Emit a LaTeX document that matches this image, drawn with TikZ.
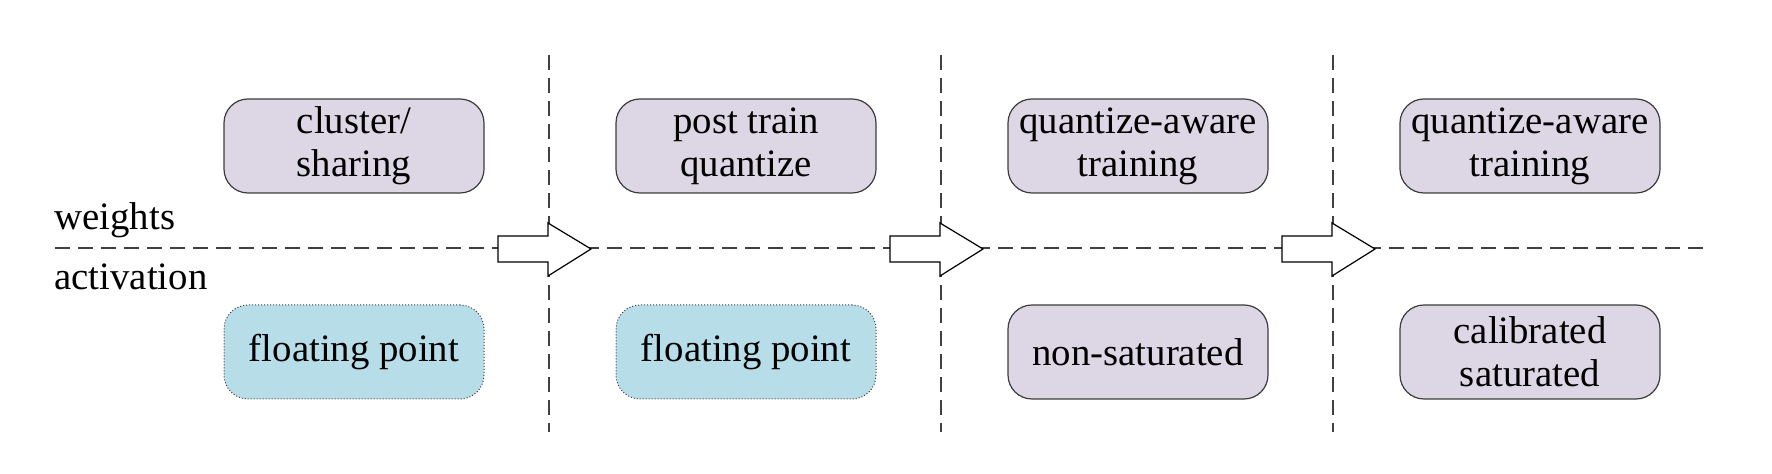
\documentclass[tikz,border=0pt]{standalone}
\usepackage{fontspec}
\setmainfont{Liberation Serif}
\definecolor{lavbox}{RGB}{221,215,229}
\definecolor{bluebox}{RGB}{183,221,232}
\definecolor{edgegray}{RGB}{60,60,60}

\begin{document}
\begin{tikzpicture}[x=0.5pt,y=0.5pt,yscale=-1,xscale=1,
  stagebox/.style={rounded corners=12pt,minimum width=130pt,minimum height=47pt,inner sep=0pt,align=center,font=\fontsize{19.4}{21.5}\selectfont},
  lavstage/.style={stagebox,draw=edgegray,line width=0.6pt,fill=lavbox},
  bluestage/.style={stagebox,draw=edgegray,densely dotted,line width=0.5pt,fill=bluebox},
  guideline/.style={draw=black!75,line width=0.6pt,dash pattern=on 7.5pt off 4pt},
  blockarrow/.style={draw=black,line width=0.6pt,fill=white,line join=miter}]

\useasboundingbox (0,0) rectangle (1772,474);

% guide lines
\draw [guideline] (55,248) -- (1709,248) ;
\draw [guideline] (549,55) -- (549,432) ;
\draw [guideline] (941,55) -- (941,432) ;
\draw [guideline] (1333,55) -- (1333,432) ;

% stage arrows
\draw [blockarrow] (498,236) -- (548,236) -- (548,223) -- (591,249) -- (548,276) -- (548,262) -- (498,262) -- cycle ;
\draw [blockarrow] (890,236) -- (940,236) -- (940,223) -- (983,249) -- (940,276) -- (940,262) -- (890,262) -- cycle ;
\draw [blockarrow] (1282,236) -- (1332,236) -- (1332,223) -- (1375,249) -- (1332,276) -- (1332,262) -- (1282,262) -- cycle ;

% row labels
\node [anchor=base west,inner sep=0pt,font=\fontsize{19.4}{21.5}\selectfont] (lblw) at (54,230) {weights};
\node [anchor=base west,inner sep=0pt,font=\fontsize{19.4}{21.5}\selectfont] (lbla) at (54,290) {activation};

% weights
\node [lavstage] (w1) at (354,146) {cluster/\\sharing};
\node [lavstage] (w2) at (746,146) {post train\\quantize};
\node [lavstage] (w3) at (1138,146) {quantize-aware\\training};
\node [lavstage] (w4) at (1530,146) {quantize-aware\\training};

% activation
\node [bluestage] (a1) at (354,352) {floating point};
\node [bluestage] (a2) at (746,352) {floating point};
\node [lavstage] (a3) at (1138,352) {non-saturated};
\node [lavstage] (a4) at (1530,352) {calibrated\\saturated};

\end{tikzpicture}
\end{document}
